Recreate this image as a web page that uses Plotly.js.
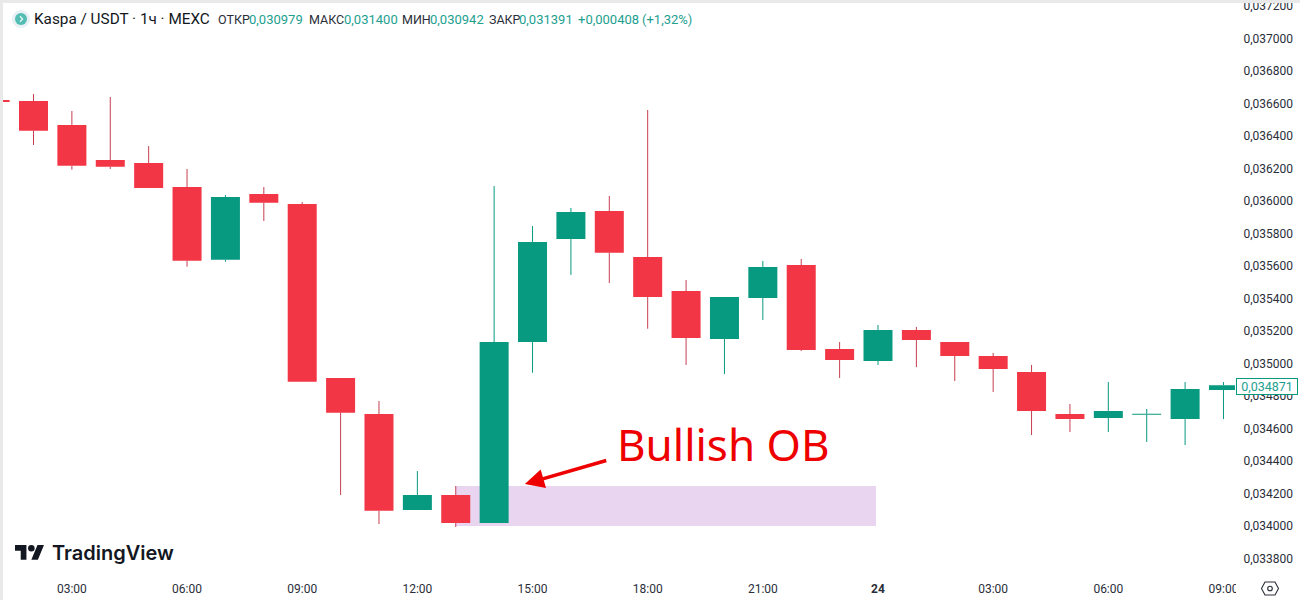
<!DOCTYPE html>
<html>
<head>
<meta charset="utf-8">
<script src="https://cdn.plot.ly/plotly-3.0.1.min.js"></script>
<style>
html,body{margin:0;padding:0;width:1300px;height:600px;overflow:hidden;background:#e9e9e9}
#chart{position:absolute;left:3px;top:3px;width:1297px;height:597px;overflow:hidden;background:#fff}
#corner{position:absolute;left:1236px;top:575px;width:64px;height:25px;background:#fff}
#deco{position:absolute;left:0;top:0;pointer-events:none}
</style>
</head>
<body>
<div id="chart"></div>
<div id="corner"></div>
<svg id="deco" width="1300" height="600" viewBox="0 0 1300 600">
  <circle cx="21" cy="19" r="9" fill="#e6f0f5"/>
  <circle cx="21" cy="19" r="6" fill="#53bdb4"/>
  <path d="M20 16.2 L22.6 19 L20 21.8" fill="none" stroke="#e6f6f5" stroke-width="1.3"/>
  <g transform="translate(15,541.7) scale(0.817)" fill="#131722">
    <path d="M14 22H7V11H0V4h14v18zM28 22h-8l7.5-18h8L28 22z"/>
    <circle cx="20" cy="8" r="4"/>
  </g>
  <path d="M1265 582 H1275 L1278.5 588.5 L1275 595 H1265 L1261.5 588.5 Z" fill="none" stroke="#2a2e39" stroke-width="1.1"/>
  <circle cx="1270" cy="588.5" r="2.3" fill="none" stroke="#2a2e39" stroke-width="1.1"/>
</svg>
<script>
const hours = [1,2,3,4,5,6,7,8,9,10,11,12,13,14,15,16,17,18,19,20,21,22,23,24,25,26,27,28,29,30,31,32,33];
const opens = [0.036622,0.036615,0.036468,0.036252,0.036234,0.036086,0.035639,0.036043,0.035982,0.034911,0.034689,0.034098,0.034191,0.034018,0.035132,0.035766,0.035938,0.035655,0.035446,0.035151,0.035403,0.035606,0.035089,0.035015,0.035206,0.035132,0.035046,0.034948,0.034689,0.034665,0.034684,0.034658,0.034837];
const highs = [0.036622,0.036658,0.036554,0.036640,0.036338,0.036197,0.036037,0.036086,0.035994,0.034911,0.034769,0.034338,0.034246,0.036092,0.035846,0.035957,0.036031,0.036560,0.035514,0.035409,0.035631,0.035643,0.035132,0.035237,0.035225,0.035132,0.035065,0.034991,0.034751,0.034886,0.034720,0.034886,0.034886];
const lows = [0.036609,0.036345,0.036193,0.036197,0.036080,0.035596,0.035626,0.035877,0.034888,0.034191,0.034012,0.034098,0.033994,0.034018,0.034943,0.035545,0.035495,0.035214,0.034991,0.034935,0.035268,0.035077,0.034911,0.034991,0.034978,0.034892,0.034825,0.034560,0.034578,0.034578,0.034517,0.034498,0.034658];
const closes = [0.036609,0.036433,0.036217,0.036211,0.036080,0.035633,0.036025,0.035990,0.034888,0.034697,0.034094,0.034191,0.034018,0.035132,0.035748,0.035932,0.035682,0.035409,0.035157,0.035409,0.035594,0.035083,0.035022,0.035206,0.035145,0.035046,0.034966,0.034708,0.034658,0.034708,0.034690,0.034843,0.034866];
const xTickVals = [3,6,9,12,15,18,21,24,27,30,33];
const xTickText = ["03:00","06:00","09:00","12:00","15:00","18:00","21:00","<b>24</b>","03:00","06:00","09:00"];
const obHours = [13,23.948];
const obPrices = [0.034,0.034246];
const arrowTail = [16.96,0.034406];
const arrowTip = [14.80,0.034258];
const lastPrice = "0,034871";
const headerItems = [
  ["ОТКР",216,"#2a2e39",12.5],["0,030979",247,"#22a08f",13],
  ["МАКС",307,"#2a2e39",12.5],["0,031400",342,"#22a08f",13],
  ["МИН",400,"#2a2e39",12.5],["0,030942",428,"#22a08f",13],
  ["ЗАКР",487,"#2a2e39",12.5],["0,031391",517,"#22a08f",13],
  ["+0,000408",576,"#22a08f",13],["(+1,32%)",640,"#22a08f",13]
];
const UP="#089981", DOWN="#F23645", DOWN_WICK="#C63F50";
const W=1297,H=597,L=0,R=65,T=0,B=26;
const FONT="Roboto, sans-serif";
const pX=x=>(x-3)/(W-R);
const pY=y=>1-(y-3)/(H-B);
const anns = [
 {text:"Kaspa / USDT · 1ч · MEXC",xref:"paper",yref:"paper",x:pX(32),y:pY(19),xanchor:"left",yanchor:"middle",showarrow:false,font:{family:FONT,size:15.3,color:"#131722"}},
 {text:"TradingView",xref:"paper",yref:"paper",x:pX(50),y:pY(553),xanchor:"left",yanchor:"middle",showarrow:false,font:{family:"Inter, sans-serif",size:20,color:"#131722",weight:600}},
 {text:"Bullish OB",xref:"paper",yref:"paper",x:pX(615),y:pY(444),xanchor:"left",yanchor:"middle",showarrow:false,font:{family:"'Noto Sans', sans-serif",size:44,color:"#EE0000"}},
 {text:"",x:arrowTip[0],y:arrowTip[1],xref:"x",yref:"y",axref:"x",ayref:"y",ax:arrowTail[0],ay:arrowTail[1],showarrow:true,arrowhead:2,arrowsize:1.1,arrowwidth:3.5,arrowcolor:"#EE0000"},
 {text:lastPrice,xref:"paper",yref:"paper",x:pX(1236),y:pY(386.5),xanchor:"left",yanchor:"middle",showarrow:false,width:60,height:15,align:"center",bgcolor:"#ffffff",bordercolor:"#089981",borderwidth:1,borderpad:0,font:{family:FONT,size:12.5,color:"#22a08f"}}
].concat(headerItems.map(h=>({text:h[0],xref:"paper",yref:"paper",x:pX(h[1]),y:pY(19),xanchor:"left",yanchor:"middle",showarrow:false,font:{family:FONT,size:h[3],color:h[2]}})));
const bodyHi = opens.map((o,i)=>Math.max(o,closes[i]));
const bodyLo = opens.map((o,i)=>Math.min(o,closes[i]));
const wick=(keep,color)=>{
  const xs=[],ys=[];
  hours.forEach((h,i)=>{ if(keep(i)){
    xs.push(h,h,null,h,h,null);
    ys.push(lows[i],bodyLo[i],null,bodyHi[i],highs[i],null);
  } });
  return {type:"scatter",mode:"lines",x:xs,y:ys,line:{color:color,width:1},connectgaps:false,hoverinfo:"skip",showlegend:false};
};
const isUp=i=>closes[i]>=opens[i];
const bodies={type:"candlestick",x:hours,open:opens,high:bodyHi,low:bodyLo,close:closes,
  increasing:{line:{color:UP,width:0},fillcolor:UP},decreasing:{line:{color:DOWN,width:0},fillcolor:DOWN},
  whiskerwidth:0,hoverinfo:"skip",showlegend:false};
Plotly.newPlot("chart",[wick(isUp,UP),wick(i=>!isUp(i),DOWN_WICK),bodies],{
  width:W,height:H,margin:{l:L,r:R,t:T,b:B,pad:0},
  paper_bgcolor:"#fff",plot_bgcolor:"#fff",showlegend:false,separators:", ",
  boxgap:0.2445,boxgroupgap:0,
  xaxis:{type:"linear",range:[1.2055,33.30],showgrid:false,zeroline:false,showline:false,rangeslider:{visible:false},
    tickmode:"array",tickvals:xTickVals,ticktext:xTickText,ticks:"outside",ticklen:4,tickcolor:"rgba(0,0,0,0)",
    tickfont:{family:FONT,size:12,color:"#2a2e39"}},
  yaxis:{side:"right",range:[0.0337046,0.0372185],dtick:0.0002,tick0:0.034,tickformat:".6f",showgrid:false,zeroline:false,showline:false,
    ticks:"outside",ticklen:5,tickcolor:"rgba(0,0,0,0)",ticklabeloverflow:"allow",tickfont:{family:FONT,size:12,color:"#2a2e39"}},
  shapes:[{type:"rect",layer:"below",xref:"x",yref:"y",x0:obHours[0],x1:obHours[1],y0:obPrices[0],y1:obPrices[1],fillcolor:"#E9D5F0",line:{width:0}}],
  annotations:anns
},{displayModeBar:false,staticPlot:true});
</script>
</body>
</html>
